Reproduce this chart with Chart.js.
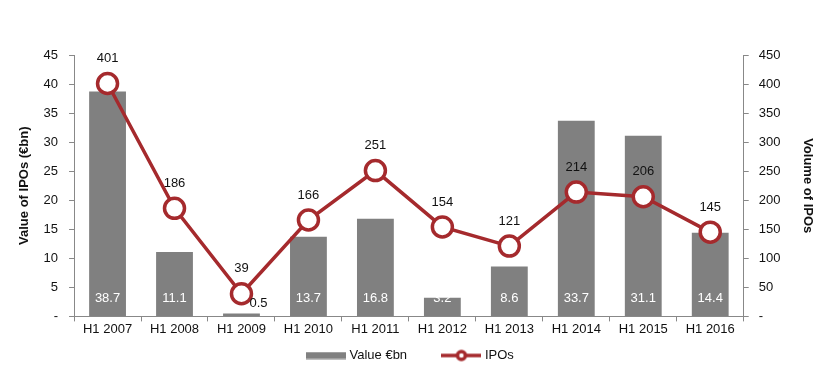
<!DOCTYPE html>
<html><head><meta charset="utf-8">
<script src="https://cdn.jsdelivr.net/npm/chart.js@4/dist/chart.umd.min.js"></script>
<style>html,body{margin:0;padding:0;background:#fff}#wrap{width:824px;height:378px}</style>
</head><body><div id="wrap"><canvas id="c" width="824" height="378"></canvas></div>
<script>
const categories = ["H1 2007","H1 2008","H1 2009","H1 2010","H1 2011","H1 2012","H1 2013","H1 2014","H1 2015","H1 2016"];
const valueEbn = [38.7, 11.1, 0.5, 13.7, 16.8, 3.2, 8.6, 33.7, 31.1, 14.4];
const ipoCount = [401, 186, 39, 166, 251, 154, 121, 214, 206, 145];
const leftTicks = [0,5,10,15,20,25,30,35,40,45];
const rightTicks = [0,50,100,150,200,250,300,350,400,450];
const seriesNames = ["Value €bn", "IPOs"];

const FONT = "'Liberation Sans', Arial, sans-serif";
const RED = '#A52A2D';
const GREY = '#808080';

// legend symbols
function mkBarIcon() {
  const c = document.createElement('canvas'); c.width = 40; c.height = 8;
  const g = c.getContext('2d'); g.fillStyle = GREY; g.fillRect(0, 0.5, 40, 7); return c;
}
function mkLineIcon() {
  const c = document.createElement('canvas'); c.width = 40; c.height = 14;
  const g = c.getContext('2d');
  g.strokeStyle = RED; g.lineWidth = 3.5;
  g.beginPath(); g.moveTo(0, 7); g.lineTo(40, 7); g.stroke();
  g.fillStyle = '#fff'; g.beginPath(); g.arc(20, 7, 4, 0, Math.PI * 2); g.fill(); g.stroke();
  return c;
}
const barIcon = mkBarIcon();
const lineIcon = mkLineIcon();

const labelPlugin = {
  id: 'labels',
  afterDatasetsDraw(chart) {
    const ctx = chart.ctx;
    ctx.save();
    ctx.font = '13px ' + FONT;
    ctx.textAlign = 'center';
    ctx.textBaseline = 'middle';
    const barMeta = chart.getDatasetMeta(0);
    const yScale = chart.scales.y;
    const base = yScale.getPixelForValue(0);
    barMeta.data.forEach((el, i) => {
      const v = valueEbn[i];
      const txt = v.toFixed(1);
      if (v < 2) {
        ctx.fillStyle = '#111';
        ctx.fillText(txt, el.x + 17, base - 13);
      } else {
        ctx.fillStyle = '#fff';
        ctx.fillText(txt, el.x, base - 18);
      }
    });
    const lineMeta = chart.getDatasetMeta(1);
    ctx.fillStyle = '#111';
    lineMeta.data.forEach((el, i) => {
      ctx.fillText(String(ipoCount[i]), el.x, el.y - 25);
    });
    ctx.restore();
  }
};

new Chart(document.getElementById('c'), {
  type: 'bar',
  data: {
    labels: categories,
    datasets: [
      {
        type: 'bar', label: seriesNames[0], data: valueEbn, yAxisID: 'y',
        backgroundColor: GREY, barPercentage: 0.55, categoryPercentage: 1.0, order: 2
      },
      {
        type: 'line', label: seriesNames[1], data: ipoCount, yAxisID: 'y1',
        borderColor: RED, borderWidth: 3.5, backgroundColor: '#fff',
        pointRadius: 10, pointBorderWidth: 3.5, pointBackgroundColor: '#fff', pointBorderColor: RED,
        tension: 0, order: 1
      }
    ]
  },
  options: {
    responsive: false, animation: false,
    layout: { padding: { top: 55, right: 4, left: 10, bottom: 6 } },
    plugins: {
      tooltip: { enabled: false },
      legend: {
        position: 'bottom',
        labels: {
          font: { family: FONT, size: 13 }, color: '#111',
          usePointStyle: true, pointStyleWidth: 34, padding: 12, boxHeight: 13,
          generateLabels(chart) {
            return [
              { text: seriesNames[0] + '       ', pointStyle: barIcon, datasetIndex: 0, fontColor: '#111', lineWidth: 0 },
              { text: seriesNames[1] + '  ', pointStyle: lineIcon, datasetIndex: 1, fontColor: '#111', lineWidth: 0 }
            ];
          }
        }
      }
    },
    scales: {
      x: {
        ticks: { font: { family: FONT, size: 13 }, color: '#111', padding: 0, maxRotation: 0 },
        grid: { drawOnChartArea: false, drawTicks: true, tickLength: 5, color: '#888', offset: true },
        border: { color: '#888', width: 1 }
      },
      y: {
        position: 'left', min: 0, max: 45,
        afterBuildTicks(s) { s.ticks = leftTicks.map(v => ({ value: v })); },
        ticks: { font: { family: FONT, size: 13 }, color: '#111', padding: 11,
          callback: v => v === 0 ? '-' : String(v) },
        grid: { drawOnChartArea: false, drawTicks: true, tickLength: 5, color: '#888' },
        border: { color: '#888', width: 1 },
        title: { display: true, text: 'Value of IPOs (€bn)', font: { family: FONT, size: 13, weight: 'bold' }, color: '#111', padding: { top: 7, bottom: 0 } }
      },
      y1: {
        position: 'right', min: 0, max: 450,
        afterBuildTicks(s) { s.ticks = rightTicks.map(v => ({ value: v })); },
        ticks: { font: { family: FONT, size: 13 }, color: '#111', padding: 10,
          callback: v => v === 0 ? '-' : String(v) },
        grid: { drawOnChartArea: false, drawTicks: true, tickLength: 5, color: '#888' },
        border: { color: '#888', width: 1 },
        title: { display: true, text: 'Volume of IPOs', font: { family: FONT, size: 13, weight: 'bold' }, color: '#111', padding: { top: 5, bottom: 9 } }
      }
    }
  },
  plugins: [labelPlugin]
});
</script></body></html>
